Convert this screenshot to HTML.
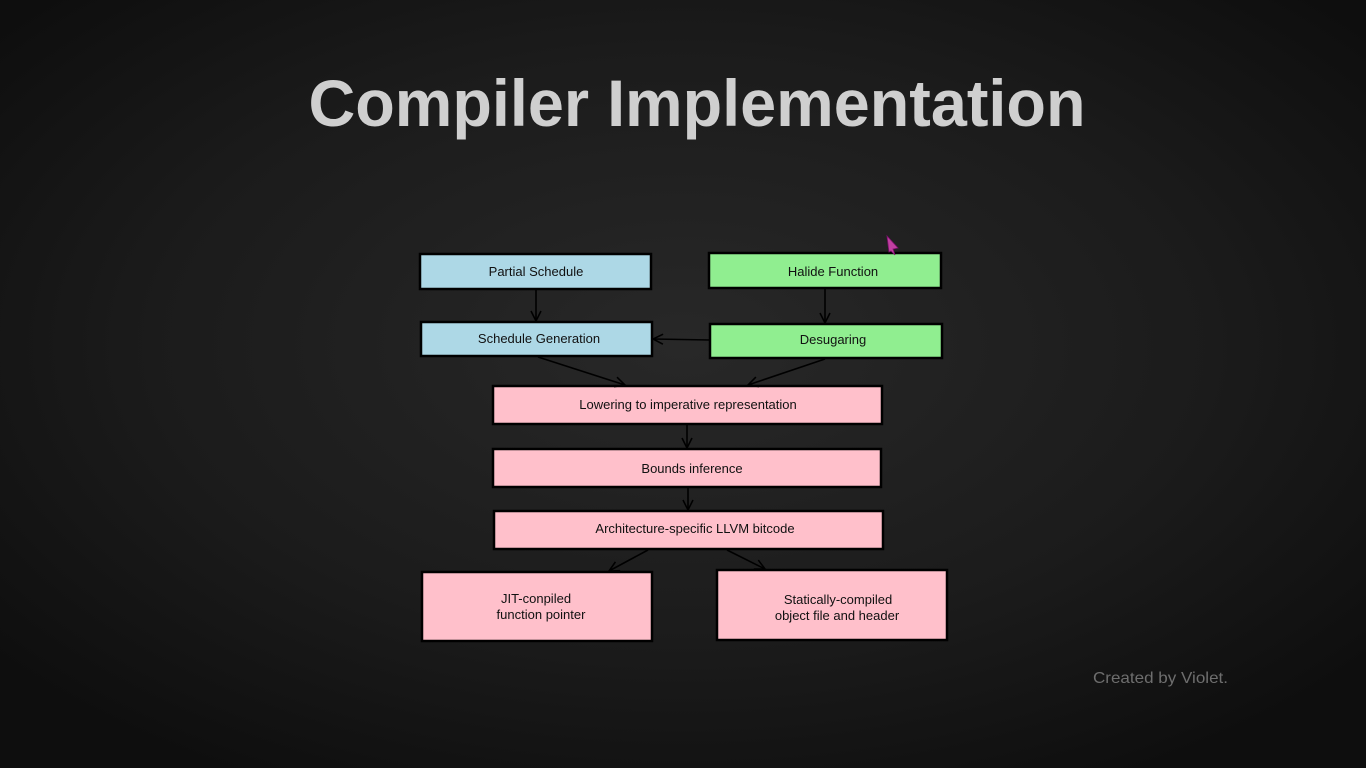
<!DOCTYPE html>
<html><head><meta charset="utf-8"><style>
html,body{margin:0;padding:0;width:1366px;height:768px;overflow:hidden;background:#151515}
svg{display:block}
</style></head><body>
<svg width="1366" height="768" viewBox="0 0 1366 768" xmlns="http://www.w3.org/2000/svg">
<defs>
<radialGradient id="bg" cx="50%" cy="45%" r="65%">
<stop offset="0" stop-color="#282828"/>
<stop offset="0.6" stop-color="#1b1b1b"/>
<stop offset="1" stop-color="#0e0e0e"/>
</radialGradient>
<marker id="a" viewBox="0 0 12 12" refX="11" refY="6" markerWidth="12" markerHeight="12" markerUnits="userSpaceOnUse" orient="auto">
<path d="M1,1 L11,6 L1,11" fill="none" stroke="#000" stroke-width="1.6"/>
</marker>
</defs>
<rect width="1366" height="768" fill="url(#bg)"/>
<text x="697" y="126" text-anchor="middle" font-family="Liberation Sans, sans-serif" font-weight="bold" font-size="66" fill="#cfcfcf" textLength="777" lengthAdjust="spacingAndGlyphs">Compiler Implementation</text>

<g stroke="#000" stroke-width="2.5">
<rect x="420" y="254" width="231" height="35" fill="#add8e6"/>
<rect x="709" y="253" width="232" height="35" fill="#90ee90"/>
<rect x="421" y="322" width="231" height="34" fill="#add8e6"/>
<rect x="710" y="324" width="232" height="34" fill="#90ee90"/>
<rect x="493" y="386" width="389" height="38" fill="#ffc0cb"/>
<rect x="493" y="449" width="388" height="38" fill="#ffc0cb"/>
<rect x="494" y="511" width="389" height="38" fill="#ffc0cb"/>
<rect x="422" y="572" width="230" height="69" fill="#ffc0cb"/>
<rect x="717" y="570" width="230" height="70" fill="#ffc0cb"/>
</g>

<g stroke="#000" stroke-width="1.6" fill="none" marker-end="url(#a)">
<line x1="536" y1="290" x2="536" y2="321"/>
<line x1="825" y1="289" x2="825" y2="323"/>
<line x1="710" y1="340" x2="653" y2="339"/>
<line x1="538" y1="357" x2="625" y2="385"/>
<line x1="825" y1="359" x2="748" y2="385"/>
<line x1="687" y1="425" x2="687" y2="448"/>
<line x1="688" y1="488" x2="688" y2="510"/>
<line x1="648" y1="550" x2="609" y2="571"/>
<line x1="727" y1="550" x2="765" y2="569"/>
</g>

<g font-family="Liberation Sans, sans-serif" font-size="13" fill="#111" text-anchor="middle">
<text x="536" y="276">Partial Schedule</text>
<text x="833" y="276">Halide Function</text>
<text x="539" y="343">Schedule Generation</text>
<text x="833" y="344">Desugaring</text>
<text x="688" y="409">Lowering to imperative representation</text>
<text x="692" y="473">Bounds inference</text>
<text x="695" y="533">Architecture-specific LLVM bitcode</text>
<text x="536" y="603">JIT-conpiled</text>
<text x="541" y="619">function pointer</text>
<text x="838" y="604">Statically-compiled</text>
<text x="837" y="620">object file and header</text>
</g>

<text x="1093" y="683" font-family="Liberation Sans, sans-serif" font-size="16" fill="#6e6e6e" textLength="135" lengthAdjust="spacingAndGlyphs">Created by Violet.</text>

<path d="M887,236 L898,248 L893,249 L895,255 L891,251 L889,252 Z" fill="#c040a0" stroke="#801070" stroke-width="0.8"/>
</svg>
</body></html>
